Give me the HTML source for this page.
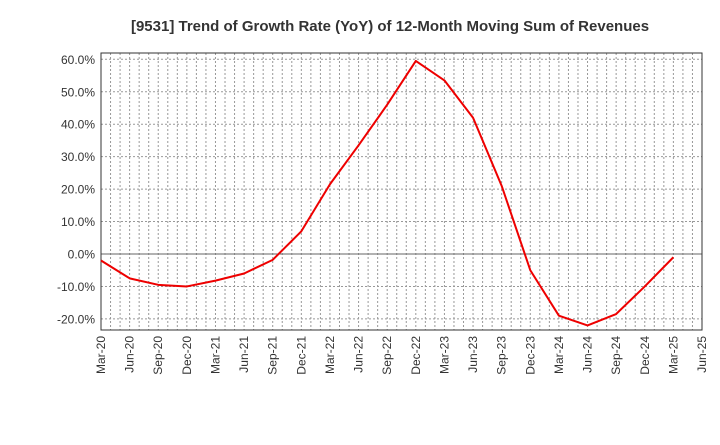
<!DOCTYPE html>
<html><head><meta charset="utf-8"><style>
body{margin:0;background:#fff;font-family:"Liberation Sans",sans-serif;}
</style></head><body>
<svg id="chart" width="720" height="440" xmlns="http://www.w3.org/2000/svg">
<text x="390" y="31" text-anchor="middle" font-size="15" font-weight="bold" fill="#333">[9531]  Trend of Growth Rate (YoY) of 12-Month Moving Sum of Revenues</text>
<g id="grid"></g><g id="axes"></g><g id="series"></g>
</svg>
<script>
const categories=["Mar-20","Jun-20","Sep-20","Dec-20","Mar-21","Jun-21","Sep-21","Dec-21","Mar-22","Jun-22","Sep-22","Dec-22","Mar-23","Jun-23","Sep-23","Dec-23","Mar-24","Jun-24","Sep-24","Dec-24","Mar-25","Jun-25"];
const values=[-2,-7.5,-9.5,-10,-8.2,-6,-1.8,7,21.5,33.5,46,59.5,53.5,42,21,-5,-19,-22,-18.5,-10,-1];
const yTicks=[60,50,40,30,20,10,0,-10,-20];
const L=101,R=702,T=53,B=330;
const x=i=>L+i*(R-L)/(categories.length-1);
const y=v=>254-v*3.245;
const NS="http://www.w3.org/2000/svg";
function mk(p,t,a){const e=document.createElementNS(NS,t);for(const k in a)e.setAttribute(k,a[k]);p.appendChild(e);return e;}
const grid=document.getElementById('grid'),axes=document.getElementById('axes'),ser=document.getElementById('series');
for(let m=1;m<(categories.length-1)*3;m++){const xx=L+m*(R-L)/((categories.length-1)*3);
const g=mk(grid,'line',{x1:xx,x2:xx,y1:T,y2:B,stroke:'#999','stroke-dasharray':'2,2','stroke-width':1});

}
yTicks.forEach(v=>{const g=mk(grid,'line',{x1:L,x2:R,y1:y(v),y2:y(v),stroke:v===0?'#666':'#999','stroke-dasharray':v===0?'none':'2,2','stroke-width':1});


const t=mk(axes,'text',{x:L-6,y:y(v)+4.5,'text-anchor':'end','font-size':12,fill:'#333'});t.textContent=v.toFixed(1)+'%';

});
categories.forEach((c,i)=>{const t=mk(axes,'text',{transform:`translate(${x(i)+4},${B+6}) rotate(-90)`,'text-anchor':'end','font-size':12,fill:'#333'});t.textContent=c;

});
const f=mk(axes,'rect',{x:L,y:T,width:R-L,height:B-T,fill:'none',stroke:'#333','stroke-width':1});


const p=mk(ser,'polyline',{points:values.map((v,i)=>x(i)+','+y(v)).join(' '),fill:'none',stroke:'#e00','stroke-width':2,'stroke-linejoin':'round'});


</script>
</body></html>
